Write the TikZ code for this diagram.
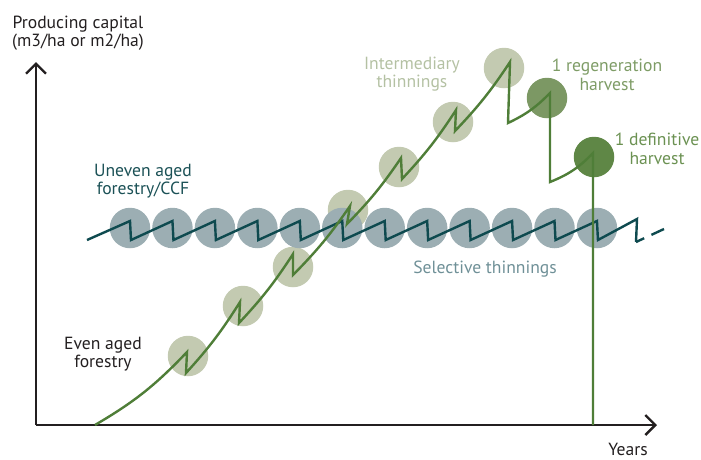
\documentclass[tikz,border=0pt]{standalone}
\usepackage{fontspec}
\setmainfont{PT Sans}
\usetikzlibrary{arrows.meta}
\definecolor{axisc}{HTML}{231F20}
\definecolor{growth}{HTML}{4F7E38}
\definecolor{thinfill}{HTML}{C3CAB1}
\definecolor{regenfill}{HTML}{7C9864}
\definecolor{deffill}{HTML}{5F8746}
\definecolor{selfill}{HTML}{9CAEB3}
\definecolor{ccfline}{HTML}{0E4A4F}
\definecolor{ccftext}{HTML}{1B5156}
\definecolor{seltext}{HTML}{6F9097}
\definecolor{thintext}{HTML}{B4C1A3}
\definecolor{regentext}{HTML}{7E9C66}
\definecolor{deftext}{HTML}{6B9152}
\begin{document}
\begin{tikzpicture}[x=1pt,y=-1pt,
  lbl/.style={align=center, font=\fontsize{17.6}{18.5}\selectfont, inner sep=0pt},
  plainlbl/.style={font=\fontsize{17.6}{18.5}\selectfont, inner sep=0pt},
  axis/.style={line width=2.4pt, draw=axisc, -{Straight Barb[length=10pt,width=20pt]}},
  disc/.style={circle, minimum size=40.5pt, inner sep=0pt, draw=none},
  ccf/.style={line width=2.4pt, draw=ccfline},
  growline/.style={line width=2.4pt, draw=growth}]
\useasboundingbox (0,0) rectangle (701,459);

% axes
\coordinate (origin) at (36,425);
\coordinate (ytop) at (36,62);
\coordinate (xend) at (657,425);
\draw[axis] (origin) -- (ytop);
\draw[axis] (origin) -- (xend);

% intermediary thinning discs
\node[disc, fill=thinfill] (i1) at (188,356) {};
\node[disc, fill=thinfill] (i2) at (243,306) {};
\node[disc, fill=thinfill] (i3) at (293,267) {};
\node[disc, fill=thinfill] (i4) at (348,210) {};
\node[disc, fill=thinfill] (i5) at (399,167) {};
\node[disc, fill=thinfill] (i6) at (453,122) {};
\node[disc, fill=thinfill] (i7) at (504,68) {};
\node[disc, fill=regenfill] (rh) at (547,98) {};
\node[disc, fill=deffill] (dh) at (594,157) {};

% selective thinning discs
\foreach \i in {0,...,11}
  \node[disc, fill=selfill] (s\i) at ({130+42.45*\i},228) {};

% uneven-aged sawtooth
\coordinate (z0) at (87,240);
\path foreach \i in {0,...,11} {
  ({130+42.45*\i},221) coordinate (t\i)
  ({131+42.45*\i},240) coordinate (b\i) };
\coordinate (t12) at (637,219);
\coordinate (b12) at (636,242);
\coordinate (z1) at (664,229);
\draw[ccf] (z0) foreach \i in {0,...,11} { -- (t\i) -- (b\i) } -- (t12) -- (b12);
\draw[ccf, dash pattern=on 9pt off 8pt on 14pt off 20pt] (b12) -- (z1);

% even-aged growth curve
\coordinate (g0) at (95,425);
\coordinate (p1) at (187,352); \coordinate (q1) at (186,373);
\coordinate (p2) at (240,302); \coordinate (q2) at (239,323);
\coordinate (p3) at (293,254); \coordinate (q3) at (293,275);
\coordinate (p4) at (350,206); \coordinate (q4) at (347,224);
\coordinate (p5) at (401,158); \coordinate (q5) at (402,179);
\coordinate (p6) at (456,110); \coordinate (q6) at (455,131);
\coordinate (p7) at (510,62);  \coordinate (q7) at (508,123);
\coordinate (p8) at (550,93);  \coordinate (q8) at (550,182);
\coordinate (p9) at (593,153); \coordinate (q9) at (593,425);
\draw[growline] (g0) to[bend right=8] (p1) -- (q1)
  to[bend right=5] (p2) -- (q2)
  to[bend right=5] (p3) -- (q3)
  to[bend right=5] (p4) -- (q4)
  to[bend right=5] (p5) -- (q5)
  to[bend right=5] (p6) -- (q6)
  to[bend right=5] (p7) -- (q7)
  to[bend right=10] (p8) -- (q8)
  to[bend right=12] (p9) -- (q9);

% labels
\node[lbl, text=axisc] (ylab) at (78,33) {Producing capital\\(m3/ha or m2/ha)};
\node[plainlbl, text=axisc, anchor=base] (xlab) at (628,455) {Years};
\node[lbl, text=axisc] (even) at (103,354) {Even aged\\forestry};
\node[lbl, text=ccftext] (uneven) at (143,181) {Uneven aged\\forestry/CCF};
\node[lbl, text=seltext] (sel) at (485,269) {Selective thinnings};
\node[lbl, text=thintext] (inter) at (412,74) {Intermediary\\thinnings};
\node[lbl, text=regentext] (regen) at (607,75) {1 regeneration\\harvest};
\node[lbl, text=deftext] (defin) at (657,149) {1 definitive\\harvest};
\end{tikzpicture}
\end{document}
